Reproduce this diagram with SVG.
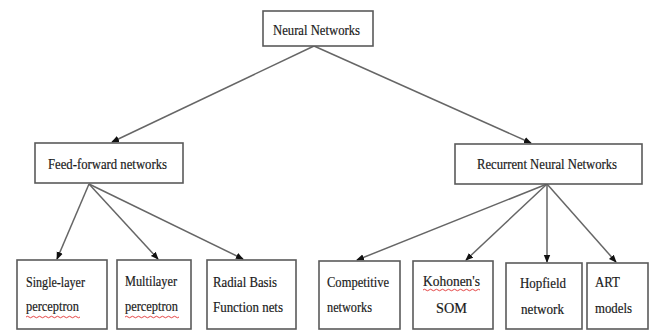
<svg xmlns="http://www.w3.org/2000/svg" width="649" height="331" viewBox="0 0 649 331">
<style>
.box{fill:#fff;stroke:#5a5a5a;stroke-width:1.6}
.t{font-family:"Liberation Serif","Times New Roman",serif;font-size:15.5px;fill:#1a1a1a;stroke:#1a1a1a;stroke-width:0.2;text-anchor:middle}
.c{fill:none;stroke:#666;stroke-width:1.5}
.sq{fill:none;stroke:#e03030;stroke-width:0.9}
</style>
<defs>
<marker id="ah" markerUnits="userSpaceOnUse" markerWidth="8" markerHeight="8" viewBox="0 0 8 8" refX="7" refY="4" orient="auto">
<path d="M0,0.8 L8,4 L0,7.2 Z" fill="#111"/>
</marker>
</defs>
<rect width="649" height="331" fill="#fff"/>
<g id="connectors">
<line class="c" x1="314" y1="46" x2="112" y2="142" marker-end="url(#ah)"/>
<line class="c" x1="314" y1="46" x2="531" y2="143" marker-end="url(#ah)"/>
<line class="c" x1="89" y1="184" x2="57" y2="259" marker-end="url(#ah)"/>
<line class="c" x1="89" y1="184" x2="158" y2="259" marker-end="url(#ah)"/>
<line class="c" x1="89" y1="184" x2="243" y2="259" marker-end="url(#ah)"/>
<line class="c" x1="547" y1="184" x2="357" y2="260" marker-end="url(#ah)"/>
<line class="c" x1="547" y1="184" x2="466" y2="260" marker-end="url(#ah)"/>
<line class="c" x1="547" y1="184" x2="547" y2="262" marker-end="url(#ah)"/>
<line class="c" x1="547" y1="184" x2="616" y2="262" marker-end="url(#ah)"/>
</g>
<g id="neural-networks">
<rect class="box" x="263" y="11" width="110" height="35"/>
<text class="t" x="316.5" y="35" textLength="87" lengthAdjust="spacingAndGlyphs">Neural Networks</text>
</g>
<g id="feed-forward">
<rect class="box" x="35" y="143" width="148" height="40"/>
<text class="t" x="107.5" y="169" textLength="119" lengthAdjust="spacingAndGlyphs">Feed-forward networks</text>
</g>
<g id="recurrent">
<rect class="box" x="455" y="144" width="187" height="40"/>
<text class="t" x="547" y="169" textLength="140" lengthAdjust="spacingAndGlyphs">Recurrent Neural Networks</text>
</g>
<g id="single-layer">
<rect class="box" x="17" y="260" width="90" height="69"/>
<text class="t" x="55.5" y="287" textLength="59" lengthAdjust="spacingAndGlyphs">Single-layer</text>
<text class="t" x="52.5" y="311" textLength="53" lengthAdjust="spacingAndGlyphs">perceptron</text>
<path class="sq" d="M26,317 q1.5,-1.5 3,0 t3,0 t3,0 t3,0 t3,0 t3,0 t3,0 t3,0 t3,0 t3,0 t3,0 t3,0 t3,0 t3,0 t3,0 t3,0 t3,0 t3,0"/>
</g>
<g id="multilayer">
<rect class="box" x="117" y="260" width="74" height="69"/>
<text class="t" x="151" y="286" textLength="52" lengthAdjust="spacingAndGlyphs">Multilayer</text>
<text class="t" x="151.5" y="311" textLength="53" lengthAdjust="spacingAndGlyphs">perceptron</text>
<path class="sq" d="M125,317 q1.5,-1.5 3,0 t3,0 t3,0 t3,0 t3,0 t3,0 t3,0 t3,0 t3,0 t3,0 t3,0 t3,0 t3,0 t3,0 t3,0 t3,0 t3,0 t3,0"/>
</g>
<g id="radial-basis">
<rect class="box" x="207" y="260" width="89" height="69"/>
<text class="t" x="245" y="287" textLength="64" lengthAdjust="spacingAndGlyphs">Radial Basis</text>
<text class="t" x="248" y="312" textLength="70" lengthAdjust="spacingAndGlyphs">Function nets</text>
</g>
<g id="competitive">
<rect class="box" x="319" y="261" width="81" height="68"/>
<text class="t" x="358" y="287" textLength="62" lengthAdjust="spacingAndGlyphs">Competitive</text>
<text class="t" x="349.5" y="312" textLength="45" lengthAdjust="spacingAndGlyphs">networks</text>
</g>
<g id="kohonen">
<rect class="box" x="413" y="261" width="80" height="68"/>
<text class="t" x="451.5" y="286" textLength="57" lengthAdjust="spacingAndGlyphs">Kohonen's</text>
<text class="t" x="451.5" y="313" textLength="31" lengthAdjust="spacingAndGlyphs">SOM</text>
<path class="sq" d="M423,290 q1.5,-1.5 3,0 t3,0 t3,0 t3,0 t3,0 t3,0 t3,0 t3,0 t3,0 t3,0 t3,0 t3,0 t3,0 t3,0 t3,0 t3,0 t3,0 t3,0 t3,0"/>
</g>
<g id="hopfield">
<rect class="box" x="506" y="263" width="76" height="66"/>
<text class="t" x="543" y="288" textLength="46" lengthAdjust="spacingAndGlyphs">Hopfield</text>
<text class="t" x="542.5" y="314" textLength="43" lengthAdjust="spacingAndGlyphs">network</text>
</g>
<g id="art">
<rect class="box" x="587" y="263" width="61" height="66"/>
<text class="t" x="607.5" y="287" textLength="25" lengthAdjust="spacingAndGlyphs">ART</text>
<text class="t" x="613.5" y="313" textLength="37" lengthAdjust="spacingAndGlyphs">models</text>
</g>
</svg>
